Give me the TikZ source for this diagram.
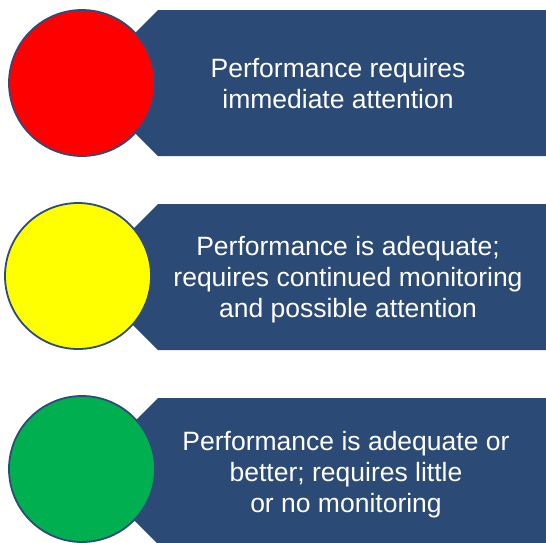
\documentclass[tikz,border=0pt]{standalone}
\usepackage{fontspec}
\setmainfont{Liberation Sans}
\definecolor{bannerblue}{HTML}{2C4A76}
\definecolor{ringblue}{HTML}{2F4B7C}
\definecolor{lampred}{HTML}{FF0000}
\definecolor{lampyellow}{HTML}{FFFF00}
\definecolor{lampgreen}{HTML}{00B050}
\begin{document}
\begin{tikzpicture}[x=1pt,y=-1pt,
  banner/.style={fill=bannerblue,draw=none},
  lamp/.style={circle,draw=ringblue,line width=1.8pt,minimum size=146pt,inner sep=0pt},
  label/.style={text=white,align=center,anchor=base,inner sep=0pt,
    font=\fontsize{26.5}{31}\selectfont}]
\useasboundingbox (0,0) rectangle (546,542);
% banners with a pointed left end tucked behind each lamp
\foreach \t/\b in {10/156,204/350,398/544}{
  \fill[banner] (158,\t) -- (546,\t) -- (546,\b) -- (158,\b) -- ({158-(\b-\t)/2},{(\t+\b)/2}) -- cycle;
}
% signal lamps
\node[lamp,fill=lampred]    (red)    at (82,83)  {};
\node[lamp,fill=lampyellow] (yellow) at (78,276) {};
\node[lamp,fill=lampgreen]  (green)  at (82,469) {};
% descriptions (anchored on the baseline of the last line)
\node[label] (t1) at (338,108) {Performance requires\\immediate attention};
\node[label] (t2) at (348,317) {Performance is adequate;\\requires continued monitoring\\and possible attention};
\node[label] (t3) at (346,512) {Performance is adequate or\\better; requires little\\or no monitoring};
\end{tikzpicture}
\end{document}
